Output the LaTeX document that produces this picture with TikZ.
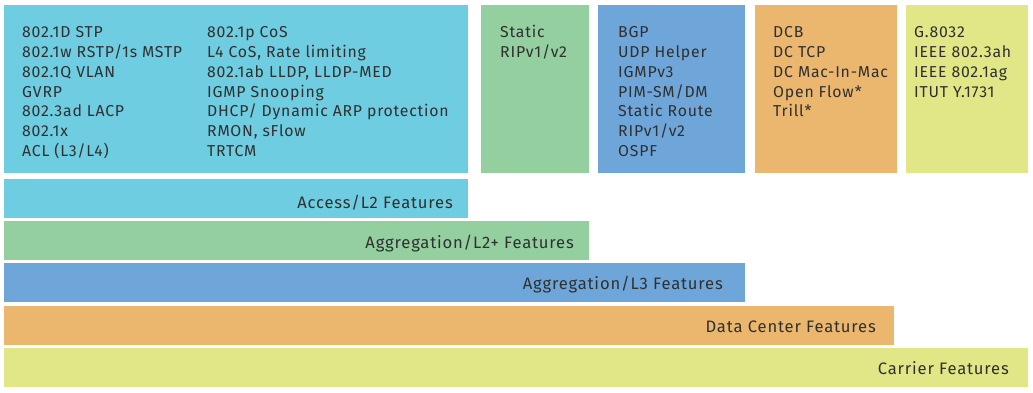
\documentclass[tikz,border=0pt]{standalone}
\usepackage{fontspec}
\setmainfont{Fira Sans}[LetterSpace=5]
\definecolor{cCyan}{HTML}{6FCDE1}
\definecolor{cGreen}{HTML}{93CF9F}
\definecolor{cBlue}{HTML}{6FA6DA}
\definecolor{cOrange}{HTML}{EBB76E}
\definecolor{cYellow}{HTML}{E1E787}
\definecolor{cText}{HTML}{303030}
\begin{document}
\begin{tikzpicture}[x=1pt,y=-1pt,
  lst/.style={anchor=base west,inner sep=0,text=cText,font=\fontsize{15.8}{18}\selectfont},
  lbl/.style={anchor=base east,inner sep=0,text=cText,font=\fontsize{16.6}{18}\selectfont}]
\useasboundingbox[fill=white] (0,0) rectangle (1033,393);
% top boxes
\fill[cCyan]   (4,5) rectangle (468,173);
\fill[cGreen]  (481,5) rectangle (589,173);
\fill[cBlue]   (598,5) rectangle (745,173);
\fill[cOrange] (755,5) rectangle (897,173);
\fill[cYellow] (906,5) rectangle (1028,173);
% bars
\fill[cCyan]   (4,179) rectangle (468,218);
\fill[cGreen]  (4,221) rectangle (589,260);
\fill[cBlue]   (4,263) rectangle (745,302);
\fill[cOrange] (4,306) rectangle (894,345);
\fill[cYellow] (4,348) rectangle (1028,387);
% lists
\foreach \t [count=\i] in {802.1D STP,802.1w RSTP/1s MSTP,802.1Q VLAN,GVRP,802.3ad LACP,802.1x,ACL (L3/L4)}
  \node[lst] (a\i) at (22,{38+19.7*(\i-1)}) {\t};
\foreach \t [count=\i] in {802.1p CoS,{L4 CoS, Rate limiting},{802.1ab LLDP, LLDP-MED},IGMP Snooping,DHCP/ Dynamic ARP protection,{RMON, sFlow},TRTCM}
  \node[lst] (b\i) at (207,{38+19.7*(\i-1)}) {\t};
\foreach \t [count=\i] in {Static,RIPv1/v2}
  \node[lst] (c\i) at (500,{38+19.7*(\i-1)}) {\t};
\foreach \t [count=\i] in {BGP,UDP Helper,IGMPv3,PIM-SM/DM,Static Route,RIPv1/v2,OSPF}
  \node[lst] (d\i) at (618,{38+19.7*(\i-1)}) {\t};
\foreach \t [count=\i] in {DCB,DC TCP,DC Mac-In-Mac,Open Flow*,Trill*}
  \node[lst] (e\i) at (773,{38+19.7*(\i-1)}) {\t};
\foreach \t [count=\i] in {G.8032,IEEE 802.3ah,IEEE 802.1ag,ITUT Y.1731}
  \node[lst] (f\i) at (914,{38+19.7*(\i-1)}) {\t};
% bar labels
\node[lbl] (l1) at (453,208) {Access/L2 Features};
\node[lbl] (l2) at (574,248) {Aggregation/L2+ Features};
\node[lbl] (l3) at (723,289) {Aggregation/L3 Features};
\node[lbl] (l4) at (876,332) {Data Center Features};
\node[lbl] (l5) at (1009,374) {Carrier Features};
\end{tikzpicture}
\end{document}
